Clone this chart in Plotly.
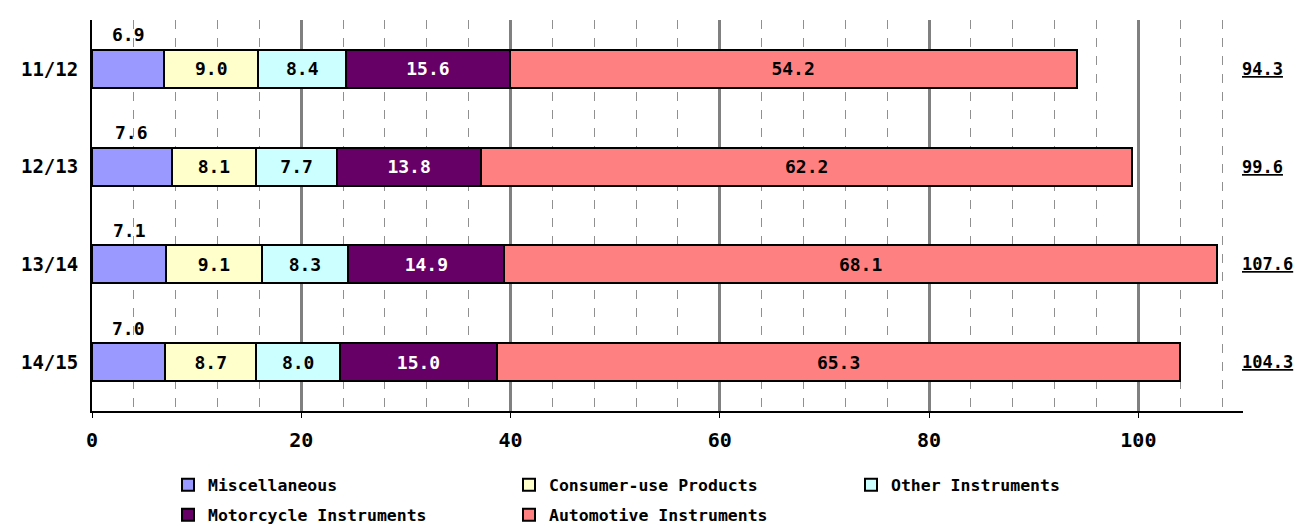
import plotly.graph_objects as go

categories = ["11/12", "12/13", "13/14", "14/15"]
series_names = ["Miscellaneous", "Consumer-use Products", "Other Instruments",
                "Motorcycle Instruments", "Automotive Instruments"]
misc = [6.9, 7.6, 7.1, 7.0]
consumer = [9.0, 8.1, 9.1, 8.7]
other = [8.4, 7.7, 8.3, 8.0]
motorcycle = [15.6, 13.8, 14.9, 15.0]
automotive = [54.2, 62.2, 68.1, 65.3]
totals = [94.3, 99.6, 107.6, 104.3]
x_ticks = [0, 20, 40, 60, 80, 100]

colors = ["#9999FF", "#FFFFCC", "#CCFFFF", "#660066", "#FF8080"]
text_colors = ["black", "black", "black", "white", "black"]
series = [misc, consumer, other, motorcycle, automotive]

FONT = "DejaVu Sans Mono"
W, H = 1296, 527
ML, MR, MT, MB = 92, 53, 20, 116
PW = W - ML - MR
PH = H - MT - MB


def px_to_paper_x(px):
    return (px - ML) / PW


def px_to_paper_y(py):
    return ((H - MB) - py) / PH


fig = go.Figure()
legend_pos = [(168, 485), (509, 485), (851, 485), (168, 515), (509, 515)]
for i, (name, vals) in enumerate(zip(series_names, series)):
    leg = "legend" if i == 0 else f"legend{i+1}"
    fig.add_trace(go.Bar(
        y=categories, x=vals, name=name, orientation="h",
        marker=dict(color=colors[i], line=dict(color="black", width=2)),
        text=["" if i == 0 else f"{v:.1f}" for v in vals],
        textposition="inside", insidetextanchor="middle", textangle=0,
        constraintext="none",
        textfont=dict(family=FONT, size=18, color=text_colors[i], weight="bold"),
        legend=leg, hoverinfo="skip",
    ))

annotations = []
for c, v in zip(categories, misc):
    annotations.append(dict(x=v / 2, y=c, xref="x", yref="y", text=f"{v:.1f}",
                            showarrow=False, yshift=34,
                            font=dict(family=FONT, size=18, color="black", weight="bold")))
for c, t in zip(categories, totals):
    annotations.append(dict(x=px_to_paper_x(1240), y=c, xref="paper", yref="y",
                            xanchor="left",
                            text=f"<u>{t:.1f}</u>", showarrow=False,
                            font=dict(family=FONT, size=17, color="black", weight="bold")))

layout_legends = {}
for i, (px, py) in enumerate(legend_pos):
    key = "legend" if i == 0 else f"legend{i+1}"
    layout_legends[key] = dict(
        x=px_to_paper_x(px), y=px_to_paper_y(py),
        xanchor="left", yanchor="middle", orientation="h",
        bgcolor="rgba(0,0,0,0)", borderwidth=0,
        font=dict(family=FONT, size=16.5, color="black", weight="bold"),
        itemwidth=30, tracegroupgap=0,
    )

fig.update_layout(
    width=W, height=H,
    margin=dict(l=ML, r=MR, t=MT, b=MB, autoexpand=False),
    barmode="stack", bargap=0.611,
    plot_bgcolor="white", paper_bgcolor="white",
    showlegend=True,
    annotations=annotations,
    font=dict(family=FONT, color="black"),
    xaxis=dict(
        range=[0, 110], tickvals=x_ticks, ticktext=[str(t) for t in x_ticks],
        showgrid=True, gridcolor="#808080", gridwidth=3,
        minor=dict(dtick=4, tick0=0, showgrid=True, gridcolor="#909090",
                   griddash="dash", gridwidth=1, ticks=""),
        showline=True, linecolor="black", linewidth=2,
        ticks="outside", ticklen=5, tickcolor="black", tickwidth=1,
        zeroline=False, automargin=False, ticklabelstandoff=5,
        tickfont=dict(family=FONT, size=20, color="black", weight="bold"),
    ),
    yaxis=dict(
        categoryorder="array", categoryarray=categories, autorange="reversed",
        showline=True, linecolor="black", linewidth=2,
        showgrid=False, ticks="", ticklabelstandoff=8, automargin=False,
        tickfont=dict(family=FONT, size=19, color="black", weight="bold"),
    ),
    **layout_legends,
)

fig.write_html(
    "out.html",
    config={"displayModeBar": False},
    post_script="document.body.style.margin='0';document.body.style.overflow='hidden';",
)
